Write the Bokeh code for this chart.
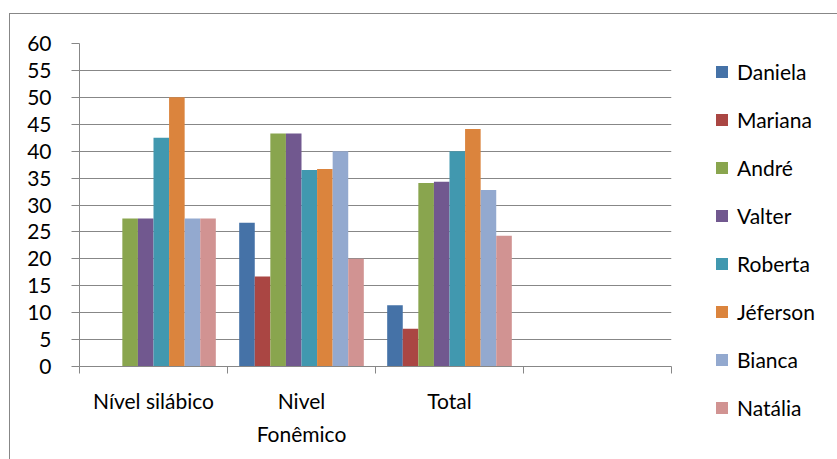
from bokeh.plotting import figure
from bokeh.layouts import row
from bokeh.models import Legend, LegendItem, FixedTicker, Range1d
from bokeh.embed import file_html
from bokeh.resources import INLINE

# ---- data ----
categories = ["Nível silábico", "Nivel\nFonêmico", "Total", ""]
series_names = ["Daniela", "Mariana", "André", "Valter", "Roberta", "Jéferson", "Bianca", "Natália"]
daniela = [0, 26.7, 11.4]
mariana = [0, 16.7, 7.0]
andre = [27.5, 43.3, 34.1]
valter = [27.5, 43.3, 34.3]
roberta = [42.5, 36.5, 40.0]
jeferson = [50.0, 36.7, 44.1]
bianca = [27.5, 40.0, 32.8]
natalia = [27.5, 20.0, 24.3]
y_ticks = list(range(0, 65, 5))

series_values = [daniela, mariana, andre, valter, roberta, jeferson, bianca, natalia]
colors = ["#4572A7", "#AA4643", "#89A54E", "#71588F", "#4198AF", "#DB843D", "#93A9CF", "#D19392"]

FONT = "Lato"
GRAY = "#878787"

n_cat = len(categories)
n_ser = len(series_names)
slots = n_ser + 1.5  # gap width 150%
bar_w = 1.0 / slots

# ---- main chart ----
p = figure(width=690, height=445, x_range=(0, n_cat), y_range=(0, 60),
           output_backend="svg", toolbar_location=None,
           min_border_left=69, min_border_top=29, min_border_right=29, min_border_bottom=93)
p.outline_line_color = None
p.background_fill_color = "white"
p.border_fill_color = "white"

# ---- legend panel ----
q = figure(width=137, height=445, x_range=(0, 1), y_range=Range1d(1000, 2000),
           output_backend="svg", toolbar_location=None,
           x_axis_location=None, y_axis_location=None,
           min_border_left=0, min_border_right=0, min_border_top=0, min_border_bottom=0)
q.frame_align = False
q.outline_line_color = None
q.grid.visible = False
q.border_fill_color = "white"
q.background_fill_color = "white"

items = []
for i, (name, vals) in enumerate(zip(series_names, series_values)):
    xs = [c + (0.75 + i + 0.5) * bar_w for c in range(len(vals))]
    p.vbar(x=xs, top=vals, width=bar_w, bottom=0, fill_color=colors[i], line_color=None)
    # same series in the legend panel, far outside its visible range, only to feed the legend
    r = q.vbar(x=xs, top=vals, width=bar_w, bottom=0, fill_color=colors[i], line_color=None)
    items.append(LegendItem(label=name, renderers=[r]))

# y axis
p.yaxis.ticker = FixedTicker(ticks=y_ticks)
p.yaxis.major_label_text_font = FONT
p.yaxis.major_label_text_font_size = "21px"
p.yaxis.major_label_text_color = "black"
p.yaxis.major_tick_out = 8
p.yaxis.major_tick_in = 0
p.yaxis.minor_tick_line_color = None
p.yaxis.axis_line_color = GRAY
p.yaxis.major_tick_line_color = GRAY
p.yaxis.major_label_standoff = 20

# x axis
centers = [c + 0.5 for c in range(n_cat)]
bounds = [float(c) for c in range(n_cat + 1)]
p.xaxis.ticker = FixedTicker(ticks=centers, minor_ticks=bounds)
p.xaxis.major_label_overrides = {c: lab for c, lab in zip(centers, categories)}
p.xaxis.major_tick_line_color = None
p.xaxis.major_tick_out = 0
p.xaxis.major_tick_in = 0
p.xaxis.minor_tick_line_color = GRAY
p.xaxis.minor_tick_out = 7
p.xaxis.minor_tick_in = 0
p.xaxis.axis_line_color = GRAY
p.xaxis.major_label_text_font = FONT
p.xaxis.major_label_text_font_size = "21px"
p.xaxis.major_label_text_color = "black"
p.xaxis.major_label_text_line_height = 1.35
p.xaxis.major_label_standoff = 14

p.xgrid.grid_line_color = None
p.ygrid.ticker = FixedTicker(ticks=y_ticks)
p.ygrid.grid_line_color = GRAY
p.ygrid.grid_line_width = 1

legend = Legend(items=items, location=(14, 39), orientation="vertical",
                glyph_width=15, glyph_height=15, label_height=25, spacing=23,
                label_standoff=8, padding=0, margin=0, border_line_color=None,
                background_fill_alpha=0,
                label_text_font=FONT, label_text_font_size="21px", label_text_color="black")
q.add_layout(legend, "center")

layout = row(p, q, spacing=0)
layout.margin = (13, 0, 0, 9)
layout.styles = {"border-left": f"1px solid {GRAY}", "border-top": f"1px solid {GRAY}"}

open("out.html", "w").write(file_html(layout, INLINE))
